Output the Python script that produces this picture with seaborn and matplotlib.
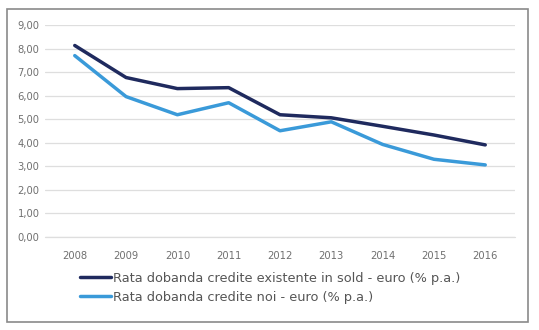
import matplotlib
matplotlib.use("Agg")
import matplotlib.pyplot as plt
import matplotlib.ticker as mticker
from matplotlib.patches import Rectangle
import seaborn as sns
import pandas as pd

years = [2008, 2009, 2010, 2011, 2012, 2013, 2014, 2015, 2016]
existing = [8.13, 6.77, 6.30, 6.34, 5.19, 5.06, 4.70, 4.33, 3.91]
new = [7.70, 5.96, 5.19, 5.70, 4.51, 4.89, 3.93, 3.30, 3.06]
series_names = ["Rata dobanda credite existente in sold - euro (% p.a.)",
                "Rata dobanda credite noi - euro (% p.a.)"]
colors = ["#1f2a5e", "#3a9ad9"]

df = pd.DataFrame({
    "year": years * 2,
    "value": existing + new,
    "series": [series_names[0]] * len(years) + [series_names[1]] * len(years),
})

sns.set_theme(style="white")
plt.rcParams['font.family'] = ['DejaVu Sans']

fig = plt.figure(figsize=(5.39, 3.30), dpi=100)
ax = fig.add_axes([45/539, 1-237/330, 470/539, 212/330])

sns.lineplot(data=df, x="year", y="value", hue="series", palette=colors,
             linewidth=2.5, ax=ax, legend=True)

ax.set_xlim(2007.42, 2016.58)
ax.set_ylim(0, 9)
ax.set_yticks([i for i in range(10)])
ax.set_xticks(years)
ax.yaxis.set_major_formatter(mticker.FuncFormatter(lambda v, p: f"{v:.2f}".replace(".", ",")))
ax.set_xlabel("")
ax.set_ylabel("")
ax.grid(axis="y", color="#dedede", linewidth=0.9)
ax.axhline(0, color="#dedede", linewidth=0.9, clip_on=False, zorder=0)
ax.set_axisbelow(True)
for s in ax.spines.values():
    s.set_visible(False)
ax.tick_params(axis="both", length=0, labelsize=7.2, colors="#707070")
ax.tick_params(axis="x", pad=10)
ax.tick_params(axis="y", pad=4)

handles, labels = ax.get_legend_handles_labels()
ax.get_legend().remove()
leg = fig.legend(handles, labels, loc="upper left",
                 bbox_to_anchor=(80/539, 1-272/330), frameon=False,
                 fontsize=9.3, handlelength=2.4, handletextpad=0.15,
                 labelspacing=0.45, borderaxespad=0, borderpad=0)
for t in leg.get_texts():
    t.set_color("#555555")

fig.patches.append(Rectangle((7/539, 1-322/330), 521/539, 313/330,
                             transform=fig.transFigure, fill=False,
                             edgecolor="#8a8a8a", linewidth=1.2))

fig.savefig("out.png", dpi=100)
